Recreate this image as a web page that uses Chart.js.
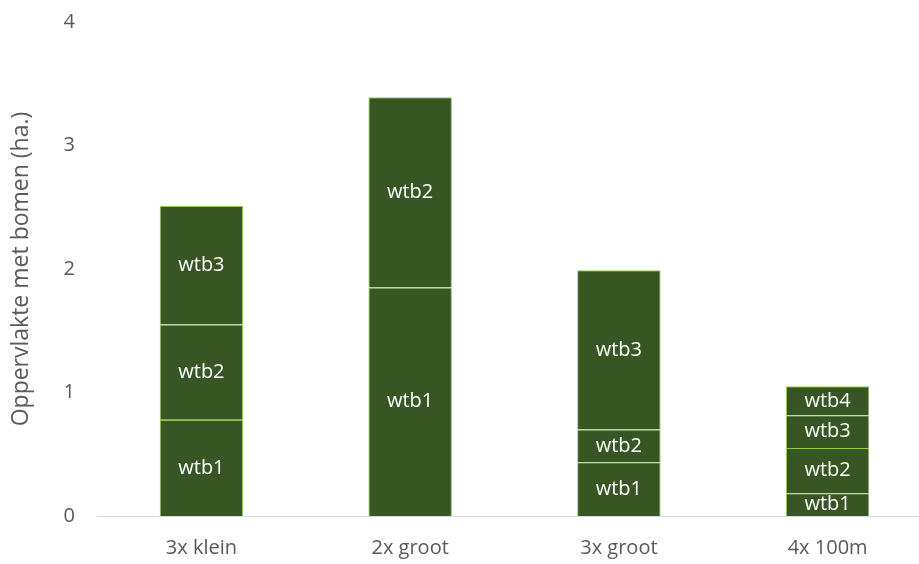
<!DOCTYPE html>
<html><head><meta charset="utf-8">
<script src="https://cdn.jsdelivr.net/npm/chart.js@4/dist/chart.umd.min.js"></script>
<style>html,body{margin:0;padding:0;background:#fff;overflow:hidden}#wrap{width:919px;height:564px;position:relative;overflow:hidden}#c{position:absolute;left:0;top:-12px}</style>
</head><body><div id="wrap"><canvas id="c" width="932" height="592"></canvas></div>
<script>
const categories = ["3x klein", "2x groot", "3x groot", "4x 100m"];
const seriesNames = ["wtb1", "wtb2", "wtb3", "wtb4"];
const wtb1 = [0.78, 1.85, 0.435, 0.185];
const wtb2 = [0.77, 1.54, 0.265, 0.365];
const wtb3 = [0.96, null, 1.29, 0.265];
const wtb4 = [null, null, null, 0.235];
const yTicks = [0, 1, 2, 3, 4];
const yTitle = "Oppervlakte met bomen (ha.)";

const FONT = "'Open Sans', Lato, sans-serif";
const fill = "#375623";
const edge = "#92D050";

const labelPlugin = {
  id: "segLabels",
  afterDatasetsDraw(chart) {
    const ctx = chart.ctx;
    ctx.save();
    ctx.fillStyle = "#ffffff";
    ctx.font = "20px " + FONT;
    ctx.textAlign = "center";
    ctx.textBaseline = "middle";
    chart.data.datasets.forEach((ds, i) => {
      const meta = chart.getDatasetMeta(i);
      meta.data.forEach((bar, j) => {
        if (ds.data[j] == null) return;
        const p = bar.getProps(["x", "y", "base"], true);
        ctx.fillText(ds.label, p.x, (p.y + p.base) / 2);
      });
    });
    ctx.restore();
  }
};

const dataArrays = [wtb1, wtb2, wtb3, wtb4];
new Chart(document.getElementById("c"), {
  type: "bar",
  data: {
    labels: categories,
    datasets: seriesNames.map((n, i) => ({
      label: n,
      data: dataArrays[i],
      backgroundColor: fill,
      borderColor: edge,
      borderWidth: 1,
      barPercentage: 0.4,
      categoryPercentage: 1
    }))
  },
  plugins: [labelPlugin],
  options: {
    responsive: false,
    animation: false,
    devicePixelRatio: 1,
    layout: { padding: { top: 0, left: 8, right: 0, bottom: 0 } },
    plugins: { legend: { display: false }, tooltip: { enabled: false } },
    scales: {
      x: {
        stacked: true,
        grid: { display: false, drawTicks: false },
        border: { display: true, color: "#d9d9d9", width: 1 },
        ticks: { color: "#595959", font: { family: FONT, size: 20 }, padding: 20, maxRotation: 0 }
      },
      y: {
        stacked: true,
        min: 0, max: 4,
        afterBuildTicks: (s) => { s.ticks = yTicks.map(v => ({ value: v })); },
        grid: { display: false, drawTicks: false },
        border: { display: false },
        ticks: { color: "#595959", font: { family: FONT, size: 20 }, padding: 22 },
        title: { display: true, text: yTitle, color: "#595959", font: { family: FONT, size: 23 }, padding: { top: 0, bottom: 6 } }
      }
    }
  }
});
</script>
</body></html>
